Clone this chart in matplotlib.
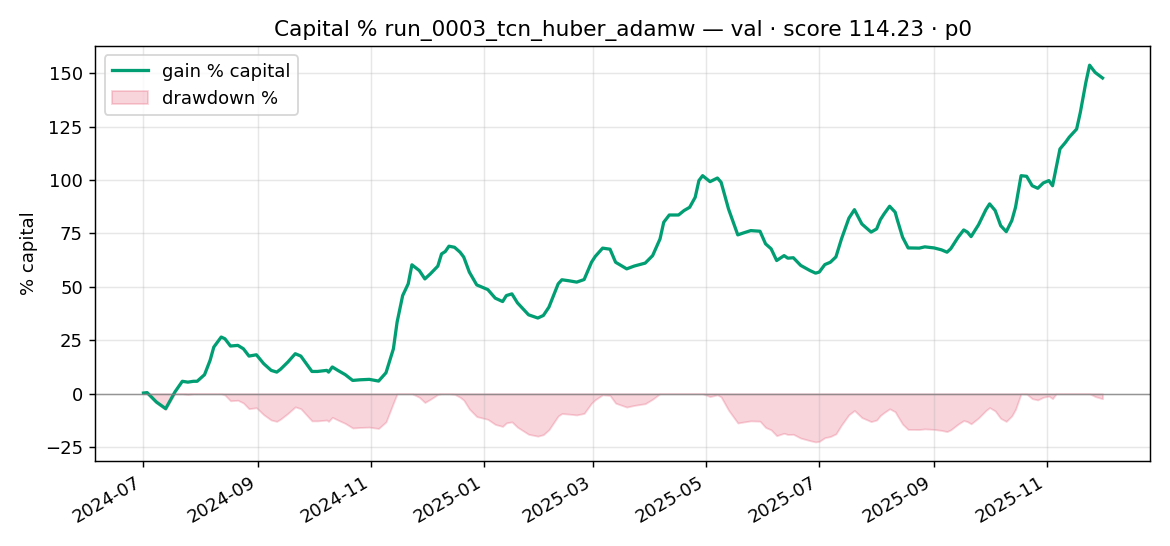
import matplotlib
matplotlib.use('Agg')
import matplotlib.pyplot as plt
import numpy as np
import pandas as pd

run_name = "run_0003_tcn_huber_adamw"
split = "val"
score = 114.23
start_date = "2024-07-01"

# days since start_date
day_offset = [0, 2, 7, 12, 17, 21, 24, 27, 29, 33, 36, 38, 42, 44, 47, 51, 54, 57,
              61, 65, 69, 72, 74, 78, 82, 85, 88, 91, 94, 99, 100, 102, 105, 109,
              113, 117, 122, 127, 131, 135, 137, 140, 143, 145, 149, 152, 155, 159,
              161, 163, 165, 168, 171, 173, 176, 180, 183, 186, 190, 194, 196, 199,
              202, 208, 213, 216, 219, 224, 226, 230, 234, 238, 242, 244, 248, 252,
              255, 261, 265, 271, 275, 279, 281, 284, 289, 292, 295, 298, 300, 302,
              306, 310, 312, 316, 321, 324, 328, 333, 336, 339, 342, 346, 348, 351,
              355, 360, 363, 365, 368, 371, 374, 377, 381, 384, 388, 390, 393, 396,
              398, 400, 403, 406, 407, 410, 413, 419, 422, 427, 431, 434, 436, 440,
              443, 445, 447, 451, 455, 457, 460, 463, 466, 469, 471, 474, 477, 480,
              483, 486, 489, 491, 493, 495, 498, 500, 504, 506, 509, 511, 514, 518]

# gain % capital
gain_pct = [0.3, 0.5, -3.9, -7.0, 0.8, 5.8, 5.4, 5.8, 5.8, 8.9, 15.6, 21.8, 26.5, 25.7,
            22.3, 22.6, 21.0, 17.6, 18.2, 14.0, 10.9, 10.1, 11.4, 14.8, 18.7, 17.6,
            14.0, 10.4, 10.4, 10.9, 10.1, 12.5, 10.9, 8.9, 6.2, 6.5, 6.7, 5.9, 9.8,
            21.0, 33.5, 45.9, 51.4, 60.3, 57.6, 53.7, 56.1, 59.7, 65.4, 66.5, 69.0,
            68.5, 66.2, 63.9, 56.9, 50.9, 49.8, 48.7, 44.7, 43.1, 45.9, 46.7, 42.5,
            36.9, 35.4, 36.6, 40.5, 51.4, 53.3, 52.8, 52.2, 53.4, 61.5, 64.2, 68.1,
            67.6, 61.5, 58.4, 59.7, 61.1, 64.6, 72.4, 80.2, 83.6, 83.6, 85.7, 87.2,
            91.9, 99.7, 102.0, 99.2, 100.9, 98.9, 86.4, 74.3, 75.2, 76.3, 76.0, 70.1,
            67.8, 62.3, 64.6, 63.4, 63.6, 60.0, 57.6, 56.4, 56.9, 60.4, 61.5, 64.0,
            72.4, 82.1, 86.1, 79.4, 77.9, 75.6, 77.1, 81.4, 84.1, 87.7, 84.9, 81.8,
            73.2, 68.2, 68.1, 68.7, 68.2, 67.3, 66.2, 67.8, 73.2, 76.6, 75.6, 73.5,
            79.0, 86.1, 88.8, 85.7, 78.6, 75.8, 81.0, 87.2, 102.0, 101.7, 97.3, 96.1,
            98.6, 99.7, 97.3, 105.9, 114.5, 117.6, 120.0, 123.8, 131.6, 145.7, 153.7,
            150.3, 147.7]

dates = pd.Timestamp(start_date) + pd.to_timedelta(day_offset, unit="D")
gain = np.array(gain_pct)
equity = 1 + gain / 100
drawdown = (equity / np.maximum.accumulate(equity) - 1) * 100

fig, ax = plt.subplots(figsize=(9, 4.2), dpi=130)
ax.plot(dates, gain, color="#029e73", linewidth=1.8, label="gain % capital")
ax.fill_between(dates, drawdown, 0, color="crimson", alpha=0.18, label="drawdown %")
ax.axhline(0, color="gray", linewidth=0.8, alpha=0.8)
ax.set_title(f"Capital % {run_name} — {split} · score {score:.2f} · p0")
ax.set_ylabel("% capital")
ax.grid(True, alpha=0.3)
ax.legend(loc="upper left")
fig.autofmt_xdate()
fig.tight_layout()
fig.savefig("out.png")
